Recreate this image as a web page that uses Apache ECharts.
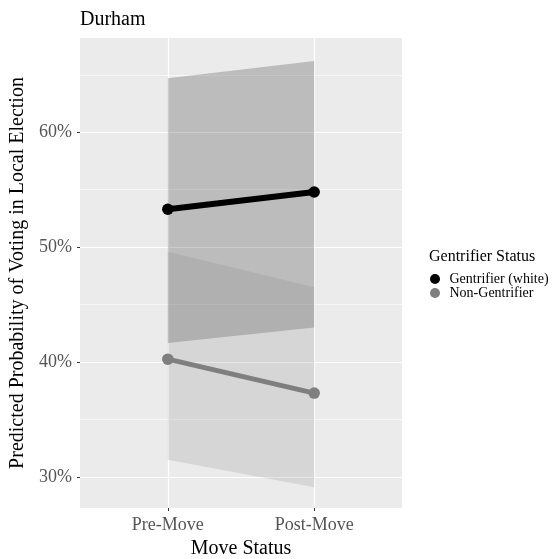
<!DOCTYPE html>
<html><head><meta charset="utf-8">
<script src="https://cdn.jsdelivr.net/npm/echarts@6/dist/echarts.min.js"></script>
<style>html,body{margin:0;padding:0;background:#fff}#c{width:552px;height:559px}</style>
</head><body><div id="c"></div>
<script>
const categories = ['Pre-Move', 'Post-Move'];
const yTicks = [30, 40, 50, 60];
const yMinor = [35, 45, 55, 65];
const seriesNames = ['Gentrifier (white)', 'Non-Gentrifier'];
const gentFit = [53.3, 54.8];
const gentLow = [41.65, 43.0];
const gentHigh = [64.7, 66.2];
const nonFit = [40.25, 37.3];
const nonLow = [31.5, 29.1];
const nonHigh = [49.6, 46.5];

const FONT = 'Liberation Serif';
const chart = echarts.init(document.getElementById('c'), null, {renderer: 'canvas'});

function ribbon(id, low, high, fill) {
  return {
    type: 'custom', id: id, silent: true, z: 2,
    data: categories.map((c, i) => [i + 1, low[i], high[i]]),
    renderItem: function (params, api) {
      if (params.dataIndex !== 0) return;
      const pts = [];
      for (let i = 0; i < low.length; i++) pts.push(api.coord([i + 1, high[i]]));
      for (let i = low.length - 1; i >= 0; i--) pts.push(api.coord([i + 1, low[i]]));
      return {type: 'polygon', shape: {points: pts}, style: {fill: fill}};
    }
  };
}
function fitLine(name, vals, color, width) {
  return {
    type: 'line', name: name, z: 3,
    data: vals.map((v, i) => [i + 1, v]),
    symbol: 'circle', symbolSize: 11.5, showSymbol: true,
    itemStyle: {color: color},
    lineStyle: {color: color, width: width},
    emphasis: {disabled: true}, animation: false
  };
}

chart.setOption({
  animation: false,
  backgroundColor: '#ffffff',
  title: [
    {text: 'Durham', left: 80, top: 10, padding: 0,
     textStyle: {fontFamily: FONT, fontSize: 20, fontWeight: 'normal', color: '#000'}},
    {text: 'Gentrifier Status', left: 429, top: 249, padding: 0,
     textStyle: {fontFamily: FONT, fontSize: 16, fontWeight: 'normal', color: '#000'}}
  ],
  legend: {
    data: seriesNames, orient: 'vertical', left: 430, top: 272, padding: 0,
    icon: 'circle', itemWidth: 19, itemHeight: 10, itemGap: 0,
    textStyle: {fontFamily: FONT, fontSize: 14, color: '#000', lineHeight: 13},
    selectedMode: false
  },
  grid: {left: 80, right: 150, top: 38, bottom: 51, show: true, backgroundColor: '#EBEBEB',
    borderWidth: 0, containLabel: false, outerBoundsMode: 'none'},
  xAxis: {
    type: 'value', min: 0.4, max: 2.6,
    name: 'Move Status', nameLocation: 'middle', nameGap: 27,
    nameTextStyle: {fontFamily: FONT, fontSize: 20, color: '#000'},
    axisLine: {show: false},
    axisTick: {show: true, length: 3, customValues: [1, 2], lineStyle: {color: '#333', width: 1}},
    axisLabel: {customValues: [1, 2], margin: 8, fontFamily: FONT, fontSize: 18, color: '#555',
      formatter: v => categories[Math.round(v) - 1]},
    splitLine: {show: true, lineStyle: {color: '#fff', width: 1.2}}
  },
  yAxis: [{
    type: 'value', min: 27.3, max: 68.2,
    name: 'Predicted Probability of Voting in Local Election', nameLocation: 'middle', nameGap: 47,
    nameTextStyle: {fontFamily: FONT, fontSize: 20, color: '#000'},
    axisLine: {show: false},
    axisTick: {show: true, length: 3, customValues: yTicks, lineStyle: {color: '#333', width: 1}},
    axisLabel: {customValues: yTicks, margin: 8, fontFamily: FONT, fontSize: 18, color: '#555',
      formatter: v => v + '%'},
    splitLine: {show: true, lineStyle: {color: '#fff', width: 1.2}}
  }, {
    type: 'value', min: 27.3, max: 68.2, position: 'left',
    axisLine: {show: false},
    axisTick: {show: false, customValues: yMinor},
    axisLabel: {show: false, customValues: yMinor},
    splitLine: {show: true, lineStyle: {color: '#fff', width: 0.6}}
  }],
  series: [
    ribbon('band-g', gentLow, gentHigh, 'rgba(0,0,0,0.2)'),
    ribbon('band-n', nonLow, nonHigh, 'rgba(128,128,128,0.2)'),
    fitLine(seriesNames[0], gentFit, '#000000', 6),
    fitLine(seriesNames[1], nonFit, '#7F7F7F', 5)
  ]
});
</script></body></html>
